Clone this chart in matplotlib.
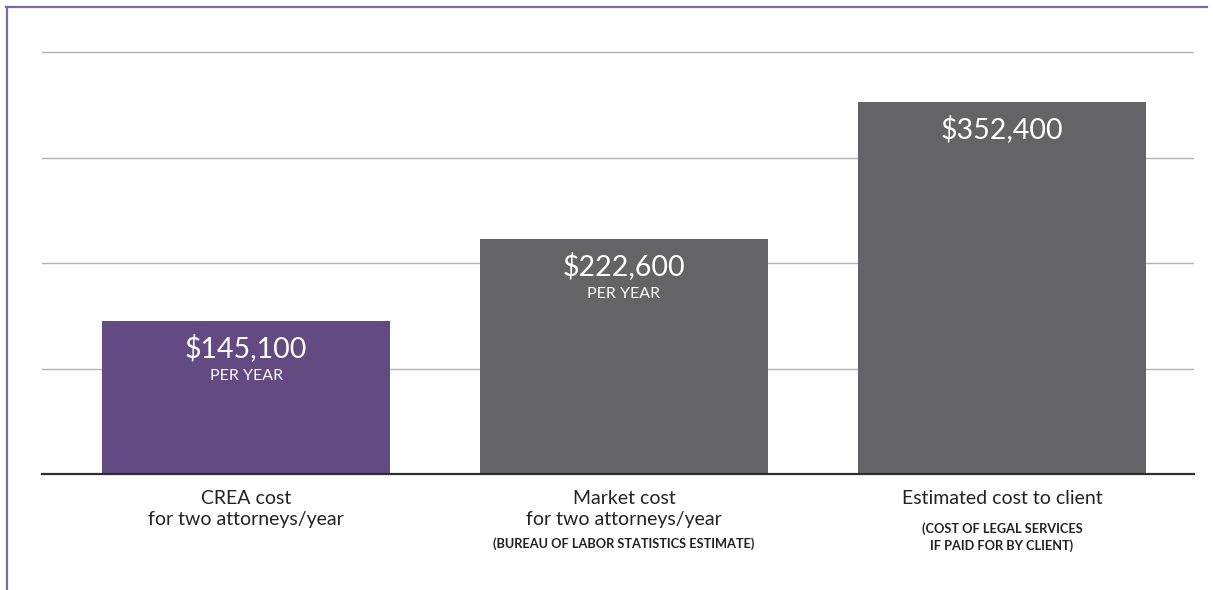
import matplotlib
matplotlib.use("Agg")
import matplotlib.pyplot as plt
from matplotlib.lines import Line2D

plt.rcParams['font.family'] = ['Lato', 'DejaVu Sans']

categories = ["CREA cost\nfor two attorneys/year",
              "Market cost\nfor two attorneys/year",
              "Estimated cost to client"]
notes = ["", "(BUREAU OF LABOR STATISTICS ESTIMATE)",
         "(COST OF LEGAL SERVICES\nIF PAID FOR BY CLIENT)"]
values = [145100, 222600, 352400]
value_labels = ["$145,100", "$222,600", "$352,400"]
sub_labels = ["PER YEAR", "PER YEAR", ""]
colors = ["#634a82", "#646466", "#646466"]

fig = plt.figure(figsize=(12.13, 5.90), dpi=100)
# 105.5 px per 100,000
ax = fig.add_axes([42 / 1213, 1 - 474 / 590, 1152 / 1213, 4.1 * 105.5 / 590])

x = list(range(len(values)))
ax.bar(x, values, width=0.762, color=colors, zorder=2)
ax.set_xlim(-0.54, 2.508)
ax.set_ylim(0, 410000)
ax.set_yticks([100000, 200000, 300000, 400000])
ax.yaxis.grid(True, color="#b3b3b3", lw=1)
ax.set_axisbelow(True)
ax.tick_params(left=False, bottom=False, labelleft=False, labelbottom=False)
for s in ax.spines.values():
    s.set_visible(False)
ax.axhline(0, color="#2e2e2e", lw=1.6, zorder=3, clip_on=False)

for i, v in enumerate(values):
    ax.annotate(value_labels[i], (i, v), xytext=(0, -27), textcoords="offset pixels",
                ha="center", va="center", color="white", fontsize=20.5)
    if sub_labels[i]:
        ax.annotate(sub_labels[i], (i, v), xytext=(0, -55), textcoords="offset pixels",
                    ha="center", va="center", color="white", fontsize=11.5)
    ax.annotate(categories[i], (i, 0), xytext=(0, -16), textcoords="offset pixels",
                ha="center", va="top", color="#222222", fontsize=14, linespacing=1.25)
for i, n in enumerate(notes):
    if not n:
        continue
    dy = -63 if i == 1 else -48
    ax.annotate(n, (i, 0), xytext=(0, dy), textcoords="offset pixels",
                ha="center", va="top", color="#222222", fontsize=9.2,
                fontweight="bold", linespacing=1.4)

# frame lines at top and left
fig.add_artist(Line2D([6 / 1213, 1207 / 1213], [1 - 7 / 590, 1 - 7 / 590],
                      color="#7f68a6", lw=1.6, transform=fig.transFigure))
fig.add_artist(Line2D([6.5 / 1213, 6.5 / 1213], [1 - 7 / 590, 0],
                      color="#7f68a6", lw=1.6, transform=fig.transFigure))

fig.savefig("out.png", dpi=100)
plt.close(fig)
